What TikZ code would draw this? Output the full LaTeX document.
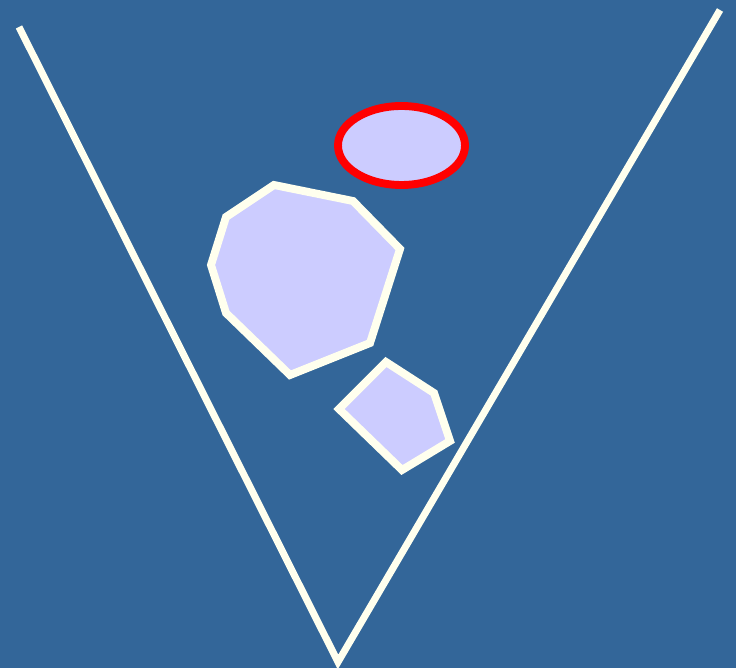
\documentclass[tikz,border=0pt]{standalone}
\usepackage{xcolor}

\definecolor{sceneblue}{HTML}{336699}
\definecolor{rockfill}{HTML}{CCCCFF}
\definecolor{ivoryline}{HTML}{FFFFEE}

\begin{document}
\begin{tikzpicture}[
    x=0.02cm, y=-0.02cm,
    wall/.style={
        draw=ivoryline,
        line width=4pt
    },
    rock/.style={
        draw=ivoryline,
        fill=rockfill,
        line width=4.5pt
    },
    target/.style={
        draw=red,
        fill=rockfill,
        line width=4.5pt
    }
]

    % --- Background ---
    \useasboundingbox[fill=sceneblue] (0,0) rectangle (736,668);

    % --- Funnel walls ---
    \coordinate (topleft) at (19,27);
    \coordinate (bottom) at (338,662);
    \coordinate (topright) at (720,10);
    \path [wall] (topleft) -- (bottom) -- (topright);

    % --- Big rock ---
    \path [rock] (274,185) -- (353,201) -- (400,249) -- (370,343)
        -- (290,375) -- (226,313) -- (211,265) -- (226,217) -- cycle;

    % --- Small rock ---
    \path [rock] (386,362) -- (434,393) -- (450,441) -- (402,470)
        -- (339,409) -- cycle;

    % --- Red ellipse ---
    \path [target] (401.5,145.5) ellipse [x radius=63.5, y radius=39.5];

\end{tikzpicture}
\end{document}
